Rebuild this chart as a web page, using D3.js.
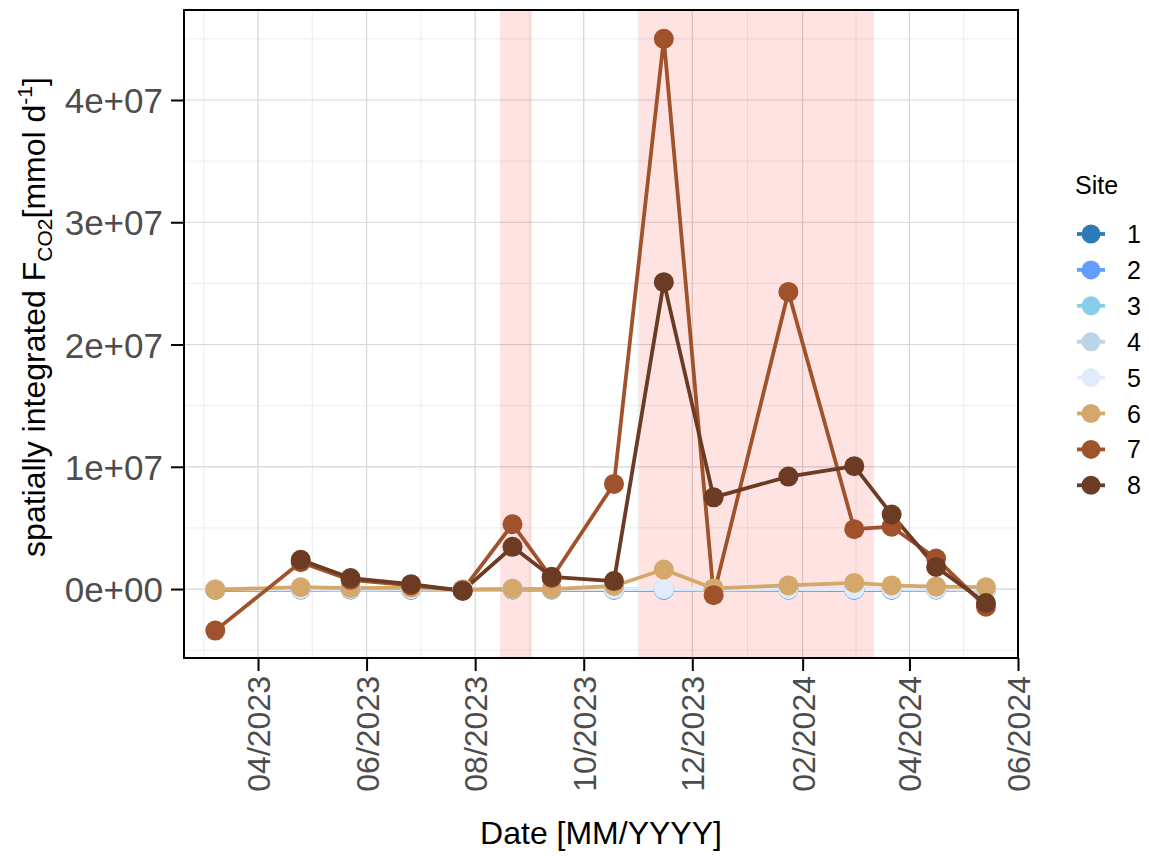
<!DOCTYPE html>
<html>
<head>
<meta charset="utf-8">
<script src="https://cdn.jsdelivr.net/npm/d3@7"></script>
<style>
  body { margin: 0; background: #fff; }
  text { font-family: "Liberation Sans", Arial, Helvetica, sans-serif; }
</style>
</head>
<body>
<script>
// Sampling campaign dates
const sampleDates = ["2023-03-08","2023-04-25","2023-05-23","2023-06-26","2023-07-25","2023-08-22","2023-09-13",
                     "2023-10-18","2023-11-15","2023-12-13","2024-01-24","2024-03-01","2024-03-22","2024-04-16","2024-05-14"];

// Site names and colours
const sites = ["1","2","3","4","5","6","7","8"];
const siteColors = ["#2C7BB6","#629CFC","#87CEEB","#BCD3E8","#E0ECFC","#D4A76A","#A0522D","#6B3B24"];

// Spatially integrated CO2 flux per site [mmol d-1]; null = no sample
const site1 = [-60000, -40000, -30000, -50000, -20000, -30000, -40000, -60000, -50000, -30000, -40000, -60000, -50000, -40000, -20000];
const site2 = [-40000, -20000, -10000, -30000, -10000, -20000, -20000, -40000, -30000, -20000, -30000, -40000, -30000, -20000, -10000];
const site3 = [-20000, -10000, 0, -10000, 0, -10000, -10000, -20000, -10000, -10000, -10000, -20000, -10000, -10000, 0];
const site4 = [-10000, 0, 10000, 0, 10000, 0, 0, -10000, 0, 0, 0, -10000, 0, 0, 10000];
const site5 = [0, 10000, 20000, 10000, 20000, 10000, 10000, 0, 10000, 10000, 10000, 0, 10000, 10000, 20000];
const site6 = [-50000, 150000, 80000, 120000, -50000, 20000, 0, 250000, 1600000, 50000, 300000, 500000, 300000, 200000, 150000];
const site7 = [-3400000, 2200000, 750000, 300000, -100000, 5300000, 900000, 8600000, 45000000, -500000, 24300000, 4900000, 5100000, 2500000, -1450000];
const site8 = [null, 2400000, 900000, 400000, -150000, 3450000, 1000000, 650000, 25100000, 7500000, 9200000, 10050000, 6100000, 1800000, -1150000];
const seriesValues = [site1, site2, site3, site4, site5, site6, site7, site8];

// Highlighted periods (shaded bands)
const shadedStart = ["2023-08-15", "2023-11-01"];
const shadedEnd   = ["2023-09-02", "2024-03-12"];

// Axis breaks and labels
const xTickDates  = ["2023-04-01","2023-06-01","2023-08-01","2023-10-01","2023-12-01","2024-02-01","2024-04-01","2024-06-01"];
const yTickValues = [0, 1e7, 2e7, 3e7, 4e7];
const yTickLabels = ["0e+00","1e+07","2e+07","3e+07","4e+07"];
const yMinorValues = [-5e6, 5e6, 1.5e7, 2.5e7, 3.5e7, 4.5e7];

const parse = d3.utcParse("%Y-%m-%d");
const W = 1149, H = 856;
const panel = { left: 184, right: 1018, top: 10, bottom: 658 };

const svg = d3.select("body").append("svg").attr("width", W).attr("height", H);

const x = d3.scaleUtc()
  .domain([new Date(Date.UTC(2023, 1, 18, 10)), parse("2024-06-01")])
  .range([panel.left, panel.right]);
const y = d3.scaleLinear()
  .domain([-5.64e6, 4.736e7])
  .range([panel.bottom, panel.top]);

const majorX = xTickDates.map(parse);
// minor breaks halfway between major breaks, plus one before the first
const minorX = [];
const step0 = (majorX[1] - majorX[0]) / 2;
minorX.push(new Date(+majorX[0] - step0));
for (let i = 0; i < majorX.length - 1; i++) minorX.push(new Date((+majorX[i] + +majorX[i + 1]) / 2));

const g = svg.append("g");
const clipId = "panel-clip";
svg.append("defs").append("clipPath").attr("id", clipId)
  .append("rect").attr("x", panel.left).attr("y", panel.top)
  .attr("width", panel.right - panel.left).attr("height", panel.bottom - panel.top);

// grid
const grid = g.append("g");
grid.selectAll(".mnx").data(minorX.filter(d => x(d) > panel.left && x(d) < panel.right)).join("line")
  .attr("x1", d => x(d)).attr("x2", d => x(d)).attr("y1", panel.top).attr("y2", panel.bottom)
  .attr("stroke", "#EDEDED").attr("stroke-width", 1);
grid.selectAll(".mny").data(yMinorValues).join("line")
  .attr("x1", panel.left).attr("x2", panel.right).attr("y1", d => y(d)).attr("y2", d => y(d))
  .attr("stroke", "#EDEDED").attr("stroke-width", 1);
grid.selectAll(".mjx").data(majorX).join("line")
  .attr("x1", d => x(d)).attr("x2", d => x(d)).attr("y1", panel.top).attr("y2", panel.bottom)
  .attr("stroke", "#D6D6D6").attr("stroke-width", 1.2);
grid.selectAll(".mjy").data(yTickValues).join("line")
  .attr("x1", panel.left).attr("x2", panel.right).attr("y1", d => y(d)).attr("y2", d => y(d))
  .attr("stroke", "#D6D6D6").attr("stroke-width", 1.2);

// shaded periods
const plot = g.append("g").attr("clip-path", `url(#${clipId})`);
plot.selectAll("rect.band").data(shadedStart.map((s, i) => [parse(s), parse(shadedEnd[i])])).join("rect")
  .attr("class", "band")
  .attr("x", d => x(d[0])).attr("width", d => x(d[1]) - x(d[0]))
  .attr("y", panel.top).attr("height", panel.bottom - panel.top)
  .attr("fill", "#FF0000").attr("fill-opacity", 0.11);

// series
const dates = sampleDates.map(parse);
const series = sites.map((s, i) => ({
  site: s, color: siteColors[i],
  pts: dates.map((d, j) => ({ date: d, value: seriesValues[i][j] })).filter(p => p.value !== null)
}));

const line = d3.line().x(p => x(p.date)).y(p => y(p.value));
plot.selectAll("path.series").data(series).join("path")
  .attr("class", "series")
  .attr("d", s => line(s.pts))
  .attr("fill", "none").attr("stroke", s => s.color)
  .attr("stroke-width", 3.8).attr("stroke-linejoin", "round");

series.forEach(s => {
  plot.append("g").selectAll("circle").data(s.pts).join("circle")
    .attr("cx", p => x(p.date)).attr("cy", p => y(p.value)).attr("r", 10)
    .attr("fill", s.color);
});

// panel border
g.append("rect").attr("x", panel.left).attr("y", panel.top)
  .attr("width", panel.right - panel.left).attr("height", panel.bottom - panel.top)
  .attr("fill", "none").attr("stroke", "#000").attr("stroke-width", 2);

// axes
const xAxis = d3.axisBottom(x).tickValues(majorX).tickFormat(d3.utcFormat("%m/%Y"))
  .tickSizeInner(13).tickSizeOuter(0).tickPadding(6);
const xg = svg.append("g").attr("transform", `translate(0,${panel.bottom})`).call(xAxis);
xg.select(".domain").remove();
xg.selectAll(".tick line").attr("stroke", "#000").attr("stroke-width", 2);
xg.selectAll(".tick text")
  .attr("fill", "#4D4D4D").attr("font-size", 32)
  .attr("text-anchor", "end")
  .attr("transform", "rotate(-90)")
  .attr("x", -18).attr("y", 0).attr("dy", "0.36em");

const yAxis = d3.axisLeft(y).tickValues(yTickValues).tickFormat((d, i) => yTickLabels[i])
  .tickSizeInner(13).tickSizeOuter(0).tickPadding(8);
const yg = svg.append("g").attr("transform", `translate(${panel.left},0)`).call(yAxis);
yg.select(".domain").remove();
yg.selectAll(".tick line").attr("stroke", "#000").attr("stroke-width", 2);
yg.selectAll(".tick text").attr("fill", "#4D4D4D").attr("font-size", 35).attr("dy", "0.36em");

// axis titles
svg.append("text")
  .attr("x", (panel.left + panel.right) / 2).attr("y", 844)
  .attr("text-anchor", "middle").attr("font-size", 32).attr("fill", "#000")
  .text("Date [MM/YYYY]");

const yt = svg.append("text")
  .attr("transform", "translate(45,317) rotate(-90)")
  .attr("text-anchor", "middle").attr("font-size", 32).attr("fill", "#000");
yt.append("tspan").text("spatially integrated F");
yt.append("tspan").attr("font-size", 21).attr("dy", 7).text("CO2");
yt.append("tspan").attr("dy", -7).text("[mmol d");
yt.append("tspan").attr("font-size", 21).attr("dy", -13).text("-1");
yt.append("tspan").attr("dy", 13).text("]");

// legend
const lg = svg.append("g");
lg.append("text").attr("x", 1075).attr("y", 194).attr("font-size", 25).attr("fill", "#000").text("Site");
const items = lg.selectAll("g.item").data(series).join("g")
  .attr("class", "item")
  .attr("transform", (s, i) => `translate(0,${234 + i * 35.9})`);
items.append("line").attr("x1", 1077).attr("x2", 1105).attr("y1", 0).attr("y2", 0)
  .attr("stroke", s => s.color).attr("stroke-width", 3.8);
items.append("circle").attr("cx", 1091).attr("cy", 0).attr("r", 9.5).attr("fill", s => s.color);
items.append("text").attr("x", 1127).attr("y", 0).attr("dy", "0.36em")
  .attr("font-size", 25).attr("fill", "#000").text(s => s.site);
</script>
</body>
</html>
